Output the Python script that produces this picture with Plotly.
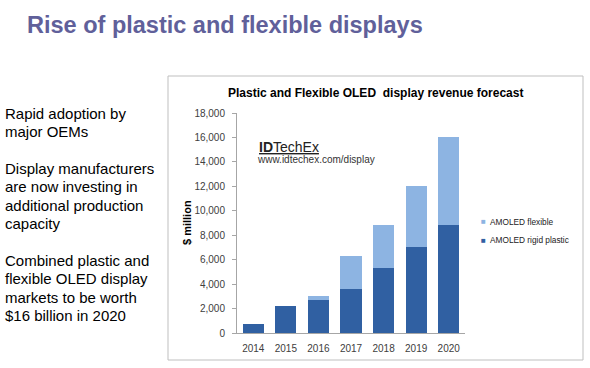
import plotly.graph_objects as go

years = ["2014", "2015", "2016", "2017", "2018", "2019", "2020"]
rigid_plastic = [700, 2200, 2700, 3600, 5300, 7000, 8800]
flexible = [0, 0, 300, 2700, 3500, 5000, 7200]
series_names = ["AMOLED rigid plastic", "AMOLED flexible"]
y_ticks = [0, 2000, 4000, 6000, 8000, 10000, 12000, 14000, 16000, 18000]

bullets = [
    "Rapid adoption by", "major OEMs", "",
    "Display manufacturers", "are now investing in", "additional production", "capacity", "",
    "Combined plastic and", "flexible OLED display", "markets to be worth", "$16 billion in 2020",
]

W, H = 590, 368
AX_L, AX_R, AX_T, AX_B = 237, 465, 113, 333   # plot area in window pixels
L, T = AX_L, AX_T
R, B = W - AX_R, H - AX_B
PW, PH = AX_R - AX_L, AX_B - AX_T

def px(x):
    return (x - AX_L) / PW

def py(y):
    return (AX_B - y) / PH

FONT = "Liberation Sans, Arial, sans-serif"
DARK = "#3060A2"
LIGHT = "#8DB4E2"
colors = [DARK, LIGHT]

fig = go.Figure()
fig.add_trace(go.Bar(x=years, y=rigid_plastic, name=series_names[0],
                     marker=dict(color=colors[0], line=dict(width=0))))
fig.add_trace(go.Bar(x=years, y=flexible, name=series_names[1],
                     marker=dict(color=colors[1], line=dict(width=0))))

def text_ann(text, x, y, size, color, xanchor="left", **kw):
    return dict(text=text, x=px(x), y=py(y), xref="paper", yref="paper",
                xanchor=xanchor, yanchor="middle", showarrow=False,
                font=dict(family=FONT, size=size, color=color), **kw)

ann = []
ann.append(text_ann("<b>Rise of plastic and flexible displays</b>", 25, 25, 23.5, "#60609A"))
ann.append(text_ann("<b>Plastic and Flexible OLED  display revenue forecast</b>", 375, 93, 12,
                    "#000000", xanchor="center"))
ann.append(text_ann("<b>$ million</b>", 187, 223, 11, "#000000", xanchor="center", textangle=-90))
ann.append(text_ann("<u><b>ID</b>TechEx</u>", 257, 147, 14, "#222222"))
ann.append(text_ann("www.idtechex.com/display", 255, 159, 10, "#333333"))

# legend (flexible on top, rigid below)
for name, col, yy in [(series_names[1], colors[1], 221.7), (series_names[0], colors[0], 240)]:
    ann.append(text_ann("■", 483.5, yy, 8, col, xanchor="center"))
    ann.append(text_ann(name, 487.5, yy, 8.3, "#222222"))

y0 = 113.3
for i, line in enumerate(bullets):
    if line:
        ann.append(text_ann(line, 3, y0 + i * 18.4, 15, "#000000"))

fig.update_layout(
    width=W, height=H,
    margin=dict(l=L, r=R, t=T, b=B, pad=0, autoexpand=False),
    paper_bgcolor="white", plot_bgcolor="white",
    barmode="stack", bargap=0.35,
    showlegend=False,
    annotations=ann,
    shapes=[dict(type="rect", xref="paper", yref="paper", x0=px(168), x1=px(583), y0=py(360), y1=py(76),
                 line=dict(color="#BFBFBF", width=1), layer="below")],
    xaxis=dict(showline=True, linecolor="#A6A6A6", linewidth=1, ticks="", showgrid=False,
               range=[-0.5, 6.5], ticklabelstandoff=6,
               tickfont=dict(family=FONT, size=10, color="#404040")),
    yaxis=dict(showline=True, linecolor="#A6A6A6", linewidth=1, ticks="outside", ticklen=4,
               tickcolor="#A6A6A6", showgrid=False, zeroline=False, range=[0, 18000],
               tickvals=y_ticks, tickformat=",d", ticklabelstandoff=5,
               tickfont=dict(family=FONT, size=10, color="#404040")),
)

fig.write_html("out.html", config={"displayModeBar": False},
               post_script="document.body.style.margin='0';")
